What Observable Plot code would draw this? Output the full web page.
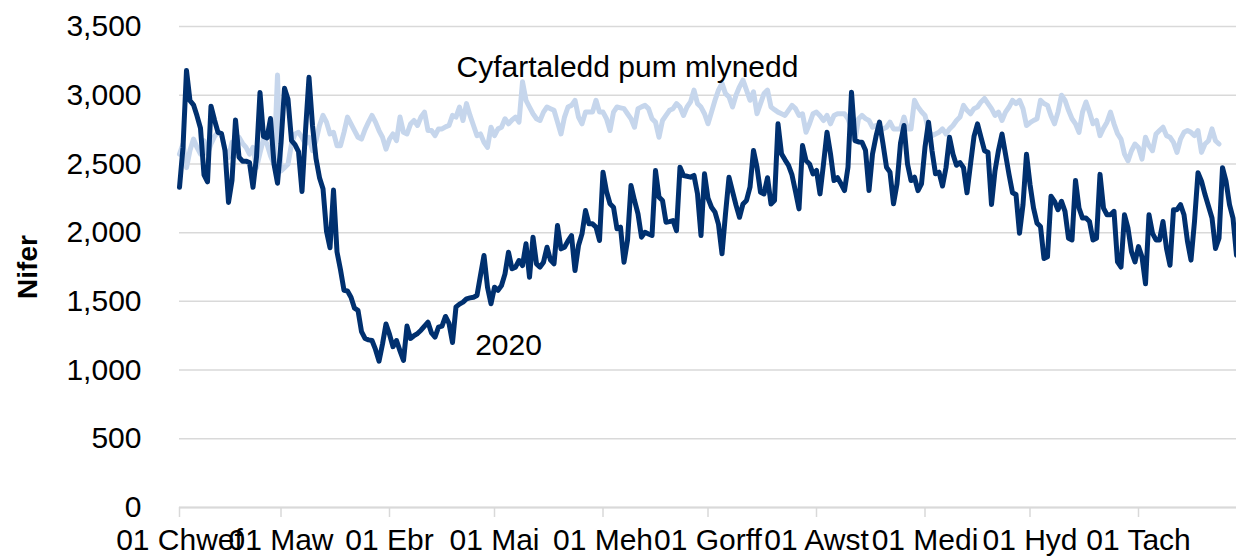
<!DOCTYPE html>
<html><head><meta charset="utf-8">
<script src="https://cdn.jsdelivr.net/npm/d3@7"></script>
<script src="https://cdn.jsdelivr.net/npm/@observablehq/plot@0.6"></script>
<style>
body{margin:0;background:#fff;}
#chart{width:1236px;height:557px;overflow:hidden;}
</style></head><body><div id="chart"></div>
<script>
// Daily values from 01 Feb 2020
const startDate = "2020-02-01";
const values2020 = [
2330,2620,3180,2960,2930,2850,2760,2420,2370,2920,2820,2730,2720,2600,2220,2380,2820,2550,2520,2520,
2510,2330,2550,3020,2700,2690,2830,2500,2360,2650,3050,2970,2670,2640,2590,2300,2740,3130,2780,2540,
2400,2320,2010,1890,2310,1860,1730,1580,1575,1530,1450,1434,1280,1230,1220,1215,1150,1065,1190,1335,
1260,1170,1215,1140,1070,1320,1230,1250,1266,1290,1320,1348,1270,1240,1312,1320,1390,1340,1200,1460,
1480,1494,1518,1525,1530,1543,1690,1834,1603,1482,1603,1580,1615,1700,1858,1737,1749,1797,1761,1919,
1676,1967,1773,1749,1785,1894,1800,1773,2052,1882,1894,1940,1979,1724,1906,1991,2161,2064,2064,2040,
1943,2440,2300,2210,2185,2028,2040,1785,1943,2343,2234,2137,1967,2003,1990,1979,2452,2258,2234,2076,
2080,2088,2015,2476,2416,2410,2404,2416,2282,1979,2428,2250,2185,2149,2060,1846,2137,2403,2300,2200,
2112,2209,2234,2331,2598,2476,2294,2282,2400,2209,2234,2792,2573,2530,2490,2420,2300,2173,2634,2525,
2500,2428,2452,2282,2500,2731,2573,2379,2400,2355,2306,2476,3022,2670,2660,2658,2600,2306,2573,2700,
2804,2646,2476,2440,2210,2355,2650,2780,2500,2379,2403,2306,2355,2622,2804,2597,2428,2440,2339,2473,
2694,2571,2490,2510,2473,2290,2498,2700,2792,2694,2596,2584,2204,2450,2600,2718,2571,2424,2290,2277,
1996,2204,2571,2351,2180,2069,2045,1812,1824,2265,2228,2167,2228,2155,1959,1947,2380,2179,2106,2106,
2081,1947,1959,2424,2179,2130,2130,2155,1787,1750,2130,2032,1861,1787,1898,1824,1628,2130,1995,1947,
1947,2081,1885,1763,2167,2167,2204,2130,1935,1800,2081,2436,2375,2277,2192,2106,1885,1959,2473,2375,
2204,2106,1836
];
const valuesAvg = [
2571,2645,2473,2600,2681,2620,2571,2669,2571,2645,2700,2730,2718,2596,2547,2657,2596,2694,2650,2620,
2571,2620,2473,2580,2681,2645,2560,2498,3147,2449,2473,2498,2645,2718,2730,2694,2645,2694,2596,2669,
2780,2853,2804,2718,2730,2633,2633,2730,2841,2792,2743,2694,2681,2750,2804,2853,2804,2743,2694,2608,
2681,2718,2669,2841,2730,2718,2790,2816,2780,2841,2877,2743,2743,2706,2755,2755,2770,2780,2853,2841,
2914,2816,2939,2853,2780,2706,2718,2657,2620,2767,2706,2755,2767,2829,2792,2820,2841,2804,3098,2963,
2914,2865,2829,2816,2877,2914,2902,2890,2804,2718,2841,2914,2926,2963,2841,2792,2877,2877,2877,2963,
2877,2877,2829,2743,2877,2914,2908,2902,2865,2829,2767,2902,2915,2926,2902,2829,2804,2694,2816,2853,
2890,2902,2939,2914,2853,2914,2951,3037,2939,2914,2865,2792,2877,2963,3037,3086,3012,2988,2914,3000,
3061,3110,3037,2963,3025,2865,2939,3012,3037,2914,2895,2877,2865,2853,2890,2926,2902,2853,2865,2730,
2792,2865,2877,2850,2816,2853,2792,2853,2865,2865,2865,2829,2755,2669,2829,2853,2830,2816,2767,2780,
2755,2755,2767,2804,2755,2755,2755,2841,2755,2755,2963,2914,2880,2853,2743,2706,2718,2730,2755,2718,
2755,2780,2816,2841,2926,2890,2865,2902,2914,2951,2976,2939,2902,2853,2877,2816,2877,2914,2963,2939,
2963,2902,2780,2800,2816,2829,2963,2939,2926,2850,2792,2877,3000,2963,2890,2829,2792,2730,2877,2951,
2877,2792,2816,2706,2760,2804,2877,2792,2720,2681,2571,2522,2596,2645,2620,2535,2694,2633,2596,2718,
2743,2767,2706,2694,2657,2584,2681,2730,2743,2730,2706,2743,2584,2645,2669,2755,2669,2645
];
const monthTicks = ["2020-02-01","2020-03-01","2020-04-01","2020-05-01","2020-06-01","2020-07-01","2020-08-01","2020-09-01","2020-10-01","2020-11-01"];
const monthLabels = ["01 Chwef","01 Maw","01 Ebr","01 Mai","01 Meh","01 Gorff","01 Awst","01 Medi","01 Hyd","01 Tach"];
const endDate = "2020-11-29";
const yTicks = [0,500,1000,1500,2000,2500,3000,3500];
const yLabel = "Nifer";
const seriesLabels = [
  {text:"Cyfartaledd pum mlynedd", date:"2020-06-08", value:3200},
  {text:"2020", date:"2020-05-05", value:1180}
];

const DAY = 86400000;
const t0 = Date.parse(startDate);
const cur = values2020.map((v,i)=>({date:new Date(t0+i*DAY), value:v}));
const avg = valuesAvg.map((v,i)=>({date:new Date(t0+i*DAY), value:v}));
const ticks = monthTicks.map(s=>new Date(s));
const labelMap = new Map(ticks.map((d,i)=>[+d, monthLabels[i]]));
const ann = seriesLabels.map(a=>({...a, date:new Date(a.date)}));

const chart = Plot.plot({
  width:1236, height:557,
  marginLeft:179, marginRight:0, marginTop:26, marginBottom:50,
  style:{fontFamily:"'Liberation Sans', Arial, sans-serif", fontSize:"30px", color:"#000", background:"#fff"},
  x:{type:"utc", domain:[new Date(t0), new Date(endDate)]},
  y:{domain:[0,3500]},
  marks:[
    Plot.gridY(yTicks,{stroke:"#d9d9d9", strokeOpacity:1, strokeWidth:1.5}),
    Plot.ruleY([0],{stroke:"#d9d9d9", strokeWidth:2}),
    Plot.axisY(yTicks,{tickSize:0, tickPadding:38, tickFormat:d3.format(","), label:null, fill:"#000", fontSize:30}),
    Plot.axisX(ticks,{tickSize:10, tickPadding:11, stroke:"#d9d9d9", strokeWidth:1.5, fill:"#000", fontSize:30, tickFormat:d=>labelMap.get(+d), label:null}),
    Plot.lineY(avg,{x:"date", y:"value", stroke:"#c6d6ec", strokeWidth:5, strokeLinejoin:"round"}),
    Plot.lineY(cur,{x:"date", y:"value", stroke:"#00306f", strokeWidth:5, strokeLinejoin:"round"}),
    Plot.text(ann,{x:"date", y:"value", text:"text", fontSize:30, fill:"#000"}),
    Plot.text([yLabel],{frameAnchor:"left", textAnchor:"middle", rotate:-90, dx:-151, fontWeight:"bold", fontSize:28, fill:"#000"})
  ]
});
document.getElementById("chart").appendChild(chart);
</script>
</body></html>
